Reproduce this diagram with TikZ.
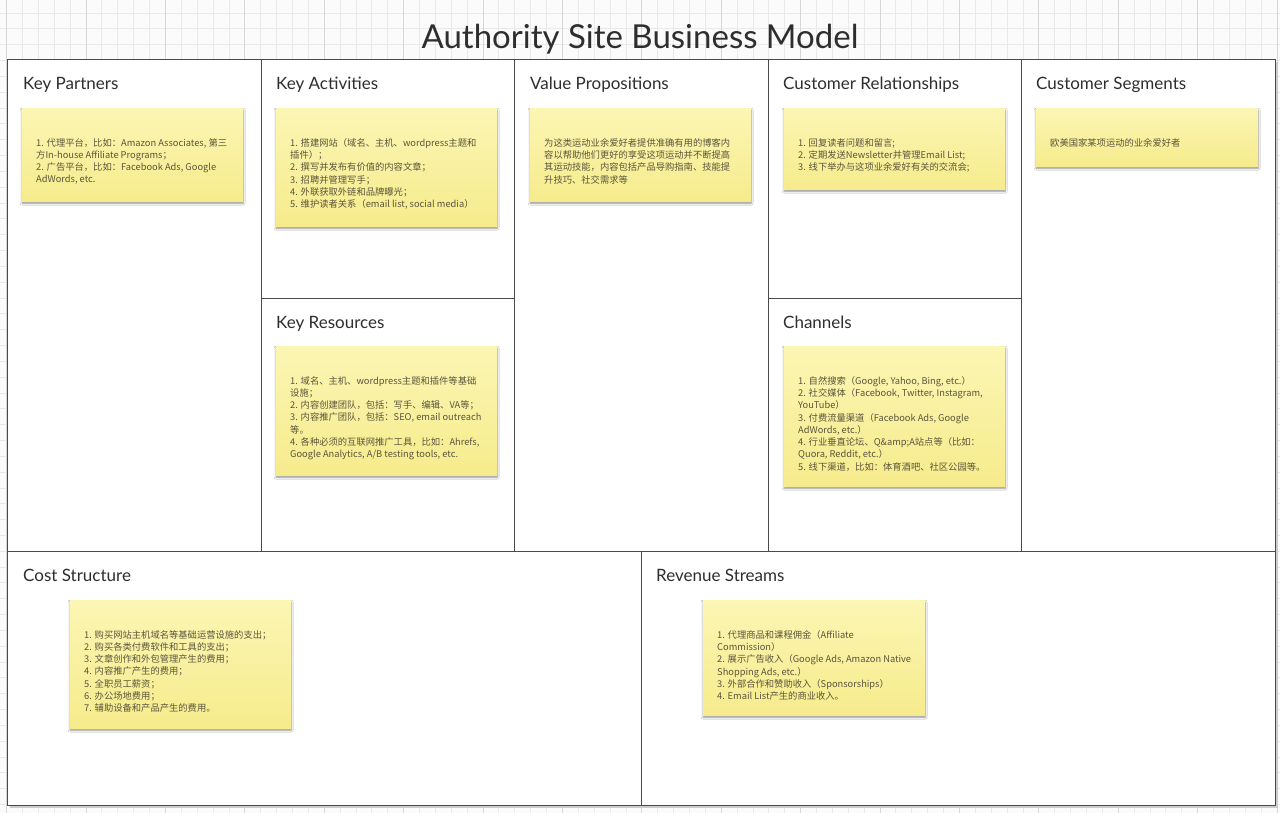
\documentclass[tikz,border=0pt]{standalone}
\usepackage{fontspec}
\setmainfont{Lato}
\newfontfamily\cjkfont{Noto Sans CJK SC}
\usetikzlibrary{shadows.blur}

\definecolor{gridbg}{HTML}{FBFBFB}
\definecolor{gridminor}{HTML}{E9E9E9}
\definecolor{gridmajor}{HTML}{D6D6D6}
\definecolor{framecol}{HTML}{4A4A4A}
\definecolor{notetop}{HTML}{FBF6B4}
\definecolor{notebot}{HTML}{F6EB8C}
\definecolor{notetext}{HTML}{5A553C}
\definecolor{headtext}{HTML}{2E2E2E}

% sticky note: name, left, top, width, height, text
\newcommand\stickynote[6]{%
  \node[sticky, minimum width=#4pt, minimum height=#5pt] (#1) at (#2,#3) {};
  \node[notetxt] (#1-t) at ([xshift=14pt,yshift=-30pt]#1.north west) {#6};
}

\begin{document}
\begin{tikzpicture}[x=1pt,y=-1pt,
  heading/.style={anchor=base west, inner sep=0, font=\fontsize{17}{20}\selectfont, text=headtext},
  sticky/.style={anchor=north west, inner sep=0, rectangle, top color=notetop, bottom color=notebot,
    draw=none, blur shadow={shadow xshift=0pt, shadow yshift=-2pt, shadow blur steps=6,
    shadow blur radius=2pt, shadow opacity=45}},
  notetxt/.style={anchor=north west, inner sep=0, align=left,
    font=\cjkfont\fontsize{9.3}{12.3}\selectfont, text=notetext},
  frameline/.style={draw=framecol, line width=1pt},
]
\useasboundingbox (0,0) rectangle (1280,813);

% squared paper background
\fill[gridbg] (0,0) rectangle (1280,813);
\foreach \i in {0,...,80} \draw[gridminor, line width=0.8pt] ({6.6+15.88*\i},0) -- ({6.6+15.88*\i},813);
\foreach \j in {0,...,50} \draw[gridminor, line width=0.8pt] (0,{13+15.83*\j}) -- (1280,{13+15.83*\j});
\foreach \i in {0,...,16} \draw[gridmajor, line width=1pt] ({6.6+79.4*\i},0) -- ({6.6+79.4*\i},813);

% canvas board
\fill[black!20] (9.5,62.5) rectangle (1278,808);
\fill[white] (7,60) rectangle (1275,805);
\draw[frameline] (7,60) rectangle (1275,805);
\draw[frameline] (261,60) -- (261,551);
\draw[frameline] (514,60) -- (514,551);
\draw[frameline] (768,60) -- (768,551);
\draw[frameline] (1021,60) -- (1021,551);
\draw[frameline] (7,551) -- (1275,551);
\draw[frameline] (261,298) -- (514,298);
\draw[frameline] (768,298) -- (1021,298);
\draw[frameline] (641,551) -- (641,805);

% title
\node[anchor=base, inner sep=0, font=\fontsize{33}{40}\selectfont, text=headtext] (title) at (640,49)
  {Authority Site Business Model};

% block headings
\node[heading] (h-kp) at (23,90) {Key Partners};
\node[heading] (h-ka) at (276,90) {Key Activities};
\node[heading] (h-vp) at (530,90) {Value Propositions};
\node[heading] (h-cr) at (783,90) {Customer Relationships};
\node[heading] (h-cs) at (1036,90) {Customer Segments};
\node[heading] (h-kr) at (276,328) {Key Resources};
\node[heading] (h-ch) at (783,328) {Channels};
\node[heading] (h-co) at (23,581) {Cost Structure};
\node[heading] (h-rs) at (656,581) {Revenue Streams};

% sticky notes
\stickynote{kp}{22}{108}{221}{93}{%
1. 代理平台，比如：Amazon Associates, 第三\\
方In-house Affiliate Programs；\\
2. 广告平台，比如：Facebook Ads, Google\\
AdWords, etc.}

\stickynote{ka}{276}{108}{221}{118}{%
1. 搭建网站（域名、主机、wordpress主题和\\
插件）；\\
2. 撰写并发布有价值的内容文章；\\
3. 招聘并管理写手；\\
4. 外联获取外链和品牌曝光；\\
5. 维护读者关系（email list, social media）}

\stickynote{vp}{530}{108}{221}{93}{%
为这类运动业余爱好者提供准确有用的博客内\\
容以帮助他们更好的享受这项运动并不断提高\\
其运动技能，内容包括产品导购指南、技能提\\
升技巧、社交需求等}

\stickynote{cr}{784}{108}{221}{81}{%
1. 回复读者问题和留言;\\
2. 定期发送Newsletter并管理Email List;\\
3. 线下举办与这项业余爱好有关的交流会;}

\stickynote{cs}{1036}{108}{222}{58}{%
欧美国家某项运动的业余爱好者}

\stickynote{kr}{276}{346}{221}{129}{%
1. 域名、主机、wordpress主题和插件等基础\\
设施；\\
2. 内容创建团队，包括：写手、编辑、VA等；\\
3. 内容推广团队，包括：SEO, email outreach\\
等。\\
4. 各种必须的互联网推广工具，比如：Ahrefs,\\
Google Analytics, A/B testing tools, etc.}

\stickynote{ch}{784}{346}{221}{140}{%
1. 自然搜索（Google, Yahoo, Bing, etc.）\\
2. 社交媒体（Facebook, Twitter, Instagram,\\
YouTube）\\
3. 付费流量渠道（Facebook Ads, Google\\
AdWords, etc.）\\
4. 行业垂直论坛、Q\&amp;A站点等（比如：\\
Quora, Reddit, etc.）\\
5. 线下渠道，比如：体育酒吧、社区公园等。}

\stickynote{co}{70}{600}{221}{128}{%
1. 购买网站主机域名等基础运营设施的支出；\\
2. 购买各类付费软件和工具的支出；\\
3. 文章创作和外包管理产生的费用；\\
4. 内容推广产生的费用；\\
5. 全职员工薪资；\\
6. 办公场地费用；\\
7. 辅助设备和产品产生的费用。}

\stickynote{rs}{703}{600}{222}{115}{%
1. 代理商品和课程佣金（Affiliate\\
Commission）\\
2. 展示广告收入（Google Ads, Amazon Native\\
Shopping Ads, etc.）\\
3. 外部合作和赞助收入（Sponsorships）\\
4. Email List产生的商业收入。}

\end{tikzpicture}
\end{document}
